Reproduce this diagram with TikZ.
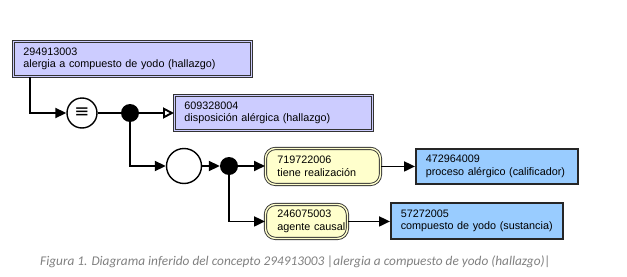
\documentclass[tikz,border=0pt]{standalone}
\usepackage{fontspec}
\setmainfont{Liberation Sans}
\newfontfamily\capfont{Carlito}
\newfontfamily\symfont{DejaVu Sans}
\usetikzlibrary{arrows.meta,calc}
\definecolor{purplefill}{HTML}{CCCCFF}
\definecolor{yellowfill}{HTML}{FFFFCC}
\definecolor{bluefill}{HTML}{99CCFF}
\definecolor{edgegray}{HTML}{333333}
\definecolor{capgray}{HTML}{808080}
\newcommand\twolines[3]{\hspace*{#1pt}\mbox{#2}\\\hspace*{#1pt}\mbox{#3}}
\tikzset{
  boxtext/.style={anchor=north west, inner xsep=0pt, inner ysep=0pt, align=left,
    font=\fontsize{10.8}{12.5}\selectfont},
  defbox/.style={boxtext, rectangle, fill=purplefill, draw=edgegray, line width=0.9pt,
    double=purplefill, double distance=1.4pt},
  attrbox/.style={boxtext, rectangle, rounded corners=10pt, fill=yellowfill, draw=edgegray,
    line width=0.9pt, double=yellowfill, double distance=1.4pt},
  primbox/.style={boxtext, rectangle, fill=bluefill, draw=black!85, line width=1.5pt},
  conn/.style={line width=1.9pt, -{Triangle[length=11pt,width=10pt]}},
  openconn/.style={line width=1.9pt, -{Triangle[open,length=11pt,width=11pt,fill=white,line width=1.9pt]}},
  plain/.style={line width=1.9pt},
  opcircle/.style={circle, draw=black, line width=1.4pt, fill=white, inner sep=0pt},
  jdot/.style={circle, fill=black, inner sep=0pt, minimum size=18pt},
}
\begin{document}
\begin{tikzpicture}[x=1pt,y=-1pt]
\useasboundingbox (0,0) rectangle (627,276);

\node[defbox, minimum width=238pt, minimum height=35pt, text width=238pt] (b1) at (13,41)
  {\twolines{10}{294913003}{alergia a compuesto de yodo (hallazgo)}};
\node[opcircle, minimum size=30pt, font=\symfont\fontsize{18}{18}\selectfont] (c1) at (82,113) {≡};
\node[jdot] (d1) at (130,113) {};
\node[defbox, minimum width=198pt, minimum height=35pt, text width=198pt] (b2) at (174,95)
  {\twolines{10}{609328004}{disposición alérgica (hallazgo)}};
\node[opcircle, minimum size=35pt] (c2) at (184,166) {};
\node[jdot] (d2) at (229,166) {};
\node[attrbox, minimum width=115pt, minimum height=36pt, text width=115pt] (y1) at (265,148)
  {\twolines{12}{719722006}{tiene realización}};
\node[attrbox, minimum width=82pt, minimum height=34pt, text width=82pt] (y2) at (265,204)
  {\twolines{12}{246075003}{agente causal}};
\node[primbox, minimum width=162pt, minimum height=35pt, text width=162pt] (p1) at (415,148)
  {\twolines{10}{472964009}{proceso alérgico (calificador)}};
\node[primbox, minimum width=172pt, minimum height=36pt, text width=172pt] (p2) at (390,202)
  {\twolines{10}{57272005}{compuesto de yodo (sustancia)}};

\draw[conn] ([xshift=17pt]b1.south west) |- (c1);
\draw[plain] (c1) -- (d1);
\draw[openconn] (d1) -- (d1 -| b2.west);
\draw[conn] (d1) |- (c2);
\draw[conn] (c2) -- (d2);
\draw[conn] (d2) -- (d2 -| y1.west);
\draw[conn] (d2) |- (y2);
\draw[conn] (y1.east) -- (y1.east -| p1.west);
\draw[conn] (y2.east) -- (y2.east -| p2.west);

\node[anchor=base west, inner sep=0pt, text=capgray, font=\capfont\itshape\fontsize{13.3}{14}\selectfont] (cap) at (40,265)
  {Figura 1. Diagrama inferido del concepto 294913003 |alergia a compuesto de yodo (hallazgo)|};
\end{tikzpicture}
\end{document}
